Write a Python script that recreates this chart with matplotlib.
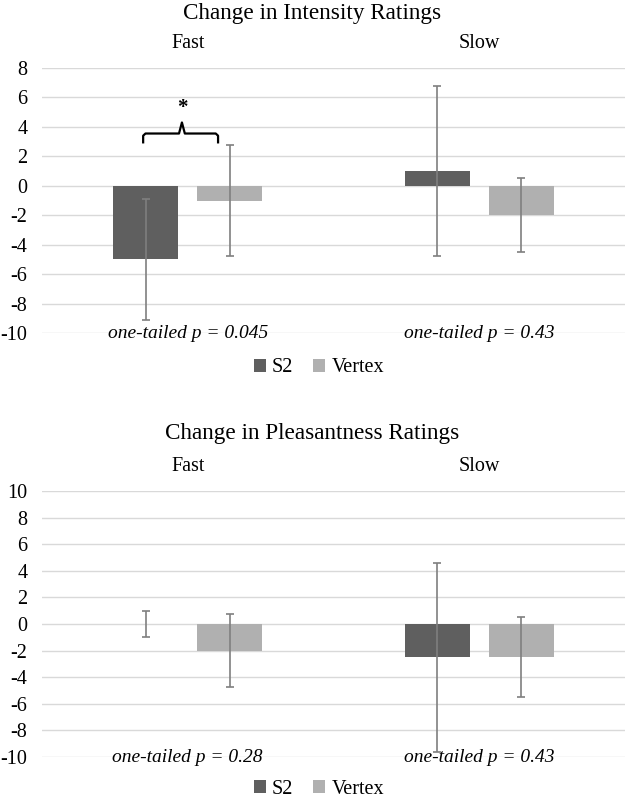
import matplotlib.pyplot as plt
import numpy as np

plt.rcParams['font.family'] = ['Liberation Serif', 'DejaVu Serif']

speeds = ['Fast', 'Slow']
series = ['S2', 'Vertex']

# intensity change (means and error half-widths)
int_s2 = [-5.0, 1.0]
int_s2_err = [4.1, 5.75]
int_vx = [-1.0, -2.0]
int_vx_err = [3.75, 2.5]
int_p = ['one-tailed p = 0.045', 'one-tailed p = 0.43']

# pleasantness change
pl_s2 = [0.0, -2.5]
pl_s2_err = [1.0, 7.1]
pl_vx = [-2.0, -2.5]
pl_vx_err = [2.75, 3.0]
pl_p = ['one-tailed p = 0.28', 'one-tailed p = 0.43']

dark = '#5f5f5f'
light = '#b0b0b0'
errc = '#7f7f7f'

W, H = 625, 799
fig = plt.figure(figsize=(W / 100, H / 100), dpi=100)


def panel(top_px, bot_px, title, title_px, s2, s2e, vx, vxe, ylim, yticks, ptexts, legend_px):
    ax = fig.add_axes([42 / W, 1 - bot_px / H, 1 - 42 / W, (bot_px - top_px) / H])
    x = np.arange(len(speeds))
    w = 0.223
    off = 0.144
    b1 = ax.bar(x - off, s2, w, color=dark, label=series[0], zorder=2)
    b2 = ax.bar(x + off, vx, w, color=light, label=series[1], zorder=2)
    ax.errorbar(x - off, s2, yerr=s2e, fmt='none', ecolor=errc, elinewidth=1.2,
                capsize=3, capthick=1.2, zorder=3)
    ax.errorbar(x + off, vx, yerr=vxe, fmt='none', ecolor=errc, elinewidth=1.2,
                capsize=3, capthick=1.2, zorder=3)
    ax.set_xlim(-0.5, 1.5)
    ax.set_ylim(*ylim)
    ax.set_yticks(yticks)
    ax.set_yticklabels([str(t) for t in yticks], fontsize=14.5)
    ax.grid(axis='y', color='#d9d9d9', linewidth=1.0, zorder=0)
    for s in ax.spines.values():
        s.set_visible(False)
    ax.tick_params(axis='y', length=0, pad=10.5)
    ax.xaxis.tick_top()
    ax.set_xticks(x)
    ax.set_xticklabels(speeds, fontsize=14.5)
    ax.tick_params(axis='x', length=0, pad=11)
    for i, t in enumerate(ptexts):
        ax.text(x[i], ylim[0], t, ha='center', va='center', fontsize=14,
                style='italic', zorder=4)
    fig.text(0.5, 1 - title_px / H, title, ha='center', va='center', fontsize=16.7)
    fig.legend(handles=[b1, b2], labels=series, loc='center',
               bbox_to_anchor=(0.51, 1 - legend_px / H), ncol=2, frameon=False,
               fontsize=14.5, handlelength=0.6, handleheight=0.6,
               handletextpad=0.3, columnspacing=1.0, borderpad=0.1)
    return ax


ax1 = panel(68, 333, 'Change in Intensity Ratings', 14, int_s2, int_s2_err,
            int_vx, int_vx_err, (-10, 8), list(range(-10, 9, 2)), int_p, 368)
ax2 = panel(491, 757, 'Change in Pleasantness Ratings', 433, pl_s2, pl_s2_err,
            pl_vx, pl_vx_err, (-10, 10), list(range(-10, 11, 2)), pl_p, 789)

# significance brace over the Fast pair
bx = [-0.153, -0.153, -0.145, -0.03, -0.02, -0.01, 0.096, 0.104, 0.104]
by = [2.95, 3.4, 3.55, 3.55, 4.3, 3.55, 3.55, 3.4, 2.95]
ax1.plot(bx, by, color='black', linewidth=1.6, zorder=4)
ax1.text(-0.02, 5.3, '*', ha='center', va='center', fontsize=15, fontweight='bold')

fig.savefig('out.png', dpi=100)
